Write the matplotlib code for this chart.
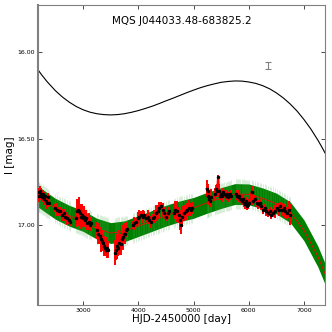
#!/usr/bin/env python
import numpy as np
import matplotlib
matplotlib.use('Agg')  # noqa
import matplotlib.pyplot as plt

TITLE = "MQS J044033.48-683825.2"

# upper (black) curve
top_hjd = [2186, 2250, 2350, 2500, 2625, 2750, 2875, 3000, 3125, 3250, 3375,
           3500, 3625, 3750, 3875, 4000, 4125, 4250, 4375, 4500, 4625, 4750,
           4875, 5000, 5125, 5250, 5375, 5500, 5625, 5750, 5875, 6000, 6125,
           6250, 6375, 6500, 6625, 6750, 6875, 7000, 7125, 7250, 7315, 7380]
top_mag = [16.104, 16.132, 16.172, 16.224, 16.260, 16.290, 16.315, 16.334,
           16.348, 16.357, 16.362, 16.364, 16.362, 16.357, 16.349, 16.339,
           16.327, 16.314, 16.299, 16.283, 16.268, 16.252, 16.236, 16.221,
           16.207, 16.195, 16.185, 16.176, 16.171, 16.168, 16.169, 16.174,
           16.182, 16.195, 16.213, 16.237, 16.266, 16.301, 16.342, 16.391,
           16.446, 16.509, 16.545, 16.583]

# model (thin red line + green band)
mod_hjd = [2186, 2500, 2750, 3000, 3250, 3500, 3750, 4000, 4250, 4500, 4750,
           5000, 5250, 5500, 5750, 6000, 6250, 6500, 6750, 7000, 7250, 7380]
mod_mag = [16.835, 16.905, 16.945, 16.975, 17.020, 17.045, 17.035, 17.005,
           16.975, 16.945, 16.920, 16.900, 16.870, 16.843, 16.820, 16.822,
           16.845, 16.875, 16.925, 17.030, 17.180, 17.280]
band_half = 0.06

# observations
obs_hjd = [2195, 2210, 2225, 2240, 2255, 2270, 2290, 2310, 2330, 2350, 2370, 2390,
           2500, 2530, 2560, 2590, 2620, 2650, 2680, 2710, 2740, 2760,
           2870, 2890, 2905, 2920, 2940, 2960, 2980, 3000, 3020, 3040, 3060, 3080, 3100, 3120, 3140,
           3260, 3280, 3300, 3320, 3340, 3360, 3380, 3400, 3420, 3440, 3460,
           3584, 3600, 3620, 3640, 3660, 3680, 3700, 3720, 3740, 3760, 3780, 3800,
           3900, 3930, 3960, 3990, 4020, 4050, 4080, 4110, 4140, 4170, 4200,
           4230, 4260, 4290, 4320, 4350, 4380, 4410, 4440, 4470, 4500, 4530, 4560,
           4640, 4670, 4700, 4730, 4760, 4775, 4800, 4830, 4860, 4890, 4920, 4950, 4970,
           5240, 5255, 5270, 5285, 5300, 5320,
           5390, 5410, 5430, 5446, 5460, 5480, 5500, 5520, 5540, 5560, 5580, 5600, 5620, 5640, 5660, 5680,
           5770, 5790, 5810, 5830, 5850, 5870, 5890, 5910, 5930, 5950, 5970, 5990, 6010, 6050,
           6080, 6110, 6140, 6170, 6200, 6230, 6260, 6290, 6320, 6350, 6380, 6410, 6430,
           6480, 6510, 6540, 6570, 6600, 6630, 6660, 6690, 6720, 6740]
obs_mag = [16.83, 16.81, 16.80, 16.82, 16.84, 16.82, 16.85, 16.83, 16.86, 16.87, 16.84, 16.87,
           16.90, 16.91, 16.92, 16.92, 16.94, 16.93, 16.95, 16.96, 16.97, 16.98,
           16.96, 16.92, 16.91, 16.92, 16.93, 16.95, 16.94, 16.96, 16.95, 16.97, 16.96, 16.99, 16.98, 17.00, 16.99,
           17.03, 17.05, 17.06, 17.08, 17.09, 17.10, 17.12, 17.13, 17.14, 17.13, 17.14,
           17.16, 17.14, 17.12, 17.13, 17.10, 17.11, 17.08, 17.07, 17.05, 17.05, 17.03, 17.02,
           17.00, 16.99, 16.98, 16.96, 16.95, 16.94, 16.95, 16.94, 16.96, 16.95, 16.97,
           16.98, 16.96, 16.95, 16.93, 16.92, 16.90, 16.89, 16.91, 16.93, 16.95, 16.93, 16.92,
           16.93, 16.91, 16.92, 16.94, 16.97, 17.00, 16.95, 16.93, 16.92, 16.91, 16.90, 16.91, 16.90,
           16.79, 16.80, 16.83, 16.85, 16.86, 16.84,
           16.82, 16.79, 16.80, 16.72, 16.80, 16.83, 16.82, 16.83, 16.81, 16.82, 16.83, 16.82, 16.84, 16.83, 16.82, 16.83,
           16.82, 16.83, 16.84, 16.83, 16.85, 16.86, 16.85, 16.87, 16.88, 16.86, 16.89, 16.88, 16.87, 16.81,
           16.86, 16.85, 16.87, 16.88, 16.87, 16.89, 16.91, 16.90, 16.92, 16.93, 16.92, 16.94, 16.93,
           16.92, 16.90, 16.91, 16.89, 16.91, 16.90, 16.92, 16.93, 16.91, 16.94]
obs_err = [0.03, 0.02, 0.02, 0.03, 0.02, 0.02, 0.03, 0.02, 0.02, 0.03, 0.02, 0.02,
           0.02, 0.03, 0.02, 0.02, 0.03, 0.02, 0.02, 0.03, 0.02, 0.02,
           0.04, 0.06, 0.05, 0.07, 0.04, 0.06, 0.05, 0.04, 0.05, 0.03, 0.04, 0.03, 0.04, 0.03, 0.03,
           0.04, 0.05, 0.04, 0.06, 0.05, 0.04, 0.05, 0.04, 0.03, 0.05, 0.04,
           0.06, 0.05, 0.06, 0.04, 0.06, 0.05, 0.04, 0.06, 0.04, 0.05, 0.03, 0.03,
           0.02, 0.03, 0.02, 0.03, 0.03, 0.02, 0.03, 0.02, 0.02, 0.03, 0.02,
           0.03, 0.02, 0.03, 0.04, 0.03, 0.03, 0.02, 0.03, 0.03, 0.02, 0.03, 0.02,
           0.03, 0.04, 0.05, 0.04, 0.05, 0.04, 0.05, 0.04, 0.04, 0.03, 0.04, 0.03, 0.03,
           0.04, 0.03, 0.04, 0.03, 0.03, 0.04,
           0.03, 0.02, 0.03, 0.01, 0.03, 0.02, 0.02, 0.03, 0.02, 0.02, 0.02, 0.02, 0.02, 0.02, 0.02, 0.02,
           0.02, 0.02, 0.02, 0.03, 0.02, 0.02, 0.02, 0.02, 0.02, 0.02, 0.02, 0.02, 0.02, 0.03,
           0.02, 0.02, 0.02, 0.02, 0.02, 0.02, 0.02, 0.02, 0.02, 0.02, 0.02, 0.02, 0.02,
           0.03, 0.02, 0.03, 0.02, 0.03, 0.02, 0.03, 0.03, 0.04, 0.05]

# typical error bar shown top right
err_hjd, err_mag, err_size = 6350, 16.08, 0.022

fig = plt.figure(figsize=(3.32, 3.32), dpi=100)
ax = fig.add_axes([0.1145, 0.0813, 0.8645, 0.9037])

mod_hjd = np.array(mod_hjd)
mod_mag = np.array(mod_mag)
obs_hjd = np.array(obs_hjd)
obs_mag = np.array(obs_mag)
obs_err = np.array(obs_err)

# green model band
grid = np.linspace(mod_hjd[0], mod_hjd[-1], 400)
grid_mag = np.interp(grid, mod_hjd, mod_mag)
ax.fill_between(grid, grid_mag - band_half, grid_mag + band_half,
                color='green', lw=0, zorder=1)
fringe = np.interp(obs_hjd, mod_hjd, mod_mag)
ax.vlines(obs_hjd, fringe - 0.085, fringe + 0.085, color='#4caf4c',
          alpha=0.25, lw=0.6, zorder=1)
ax.plot(grid, grid_mag, color='red', lw=0.6, zorder=2)

# observed light curve, broken into seasons
breaks = np.where(np.diff(obs_hjd) > 60)[0] + 1
for idx in np.split(np.arange(len(obs_hjd)), breaks):
    ax.errorbar(obs_hjd[idx], obs_mag[idx], yerr=obs_err[idx] * 1.2, fmt='-',
                color='red', lw=1.6, elinewidth=1.4, zorder=3)
ax.plot(obs_hjd, obs_mag, 'k.', ms=3.0, zorder=4)

ax.plot(top_hjd, top_mag, 'k-', lw=0.8)
ax.errorbar([err_hjd], [err_mag], yerr=[err_size], fmt='none',
            ecolor='0.5', elinewidth=0.8, capsize=2, capthick=0.8)

ax.set_xlim(2186, 7380)
ax.set_ylim(17.46, 15.73)
ax.set_xticks([3000, 4000, 5000, 6000, 7000])
ax.set_yticks([16.0, 16.5, 17.0])
ax.set_yticklabels(["16.00", "16.50", "17.00"])
ax.tick_params(direction='in', top=True, right=True, length=3, width=0.5,
               labelsize=4.5, pad=2)
for sp in ax.spines.values():
    sp.set_color('0.5')
    sp.set_linewidth(0.8)
ax.spines['left'].set_linewidth(1.5)

ax.set_xlabel("HJD-2450000 [day]", fontsize=7.5, labelpad=1)
ax.set_ylabel("I [mag]", fontsize=7.5, labelpad=2)
ax.text(0.5, 0.947, TITLE, transform=ax.transAxes, ha='center', va='center',
        fontsize=7.5)

fig.savefig("out.png", dpi=100)
